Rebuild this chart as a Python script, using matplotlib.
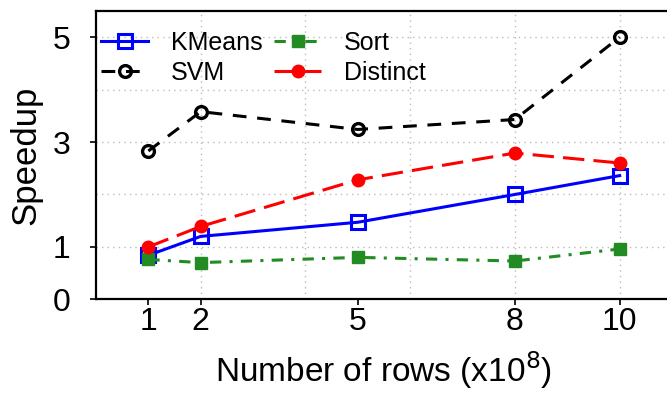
import matplotlib
matplotlib.use("Agg")
import matplotlib.pyplot as plt
from matplotlib.ticker import FixedLocator

plt.rcParams['font.family'] = ['Liberation Sans', 'DejaVu Sans']

# data
rows = [1, 2, 5, 8, 10]   # x 10^8
kmeans = [0.84, 1.20, 1.47, 2.00, 2.36]
svm = [2.83, 3.58, 3.24, 3.43, 5.00]
sort_ = [0.76, 0.70, 0.80, 0.73, 0.96]
distinct = [1.00, 1.39, 2.28, 2.79, 2.60]

xticks = [1, 2, 5, 8, 10]
yticks = [0, 1, 3, 5]
xgrid = [2, 4, 6, 8, 10]
ygrid = [1, 2, 3, 4, 5]

fig = plt.figure(figsize=(6.67, 3.97), dpi=100)
ax = fig.add_axes([96 / 667, (397 - 299.3) / 397, 576 / 667, 288.3 / 397])

ax.plot(rows, kmeans, color="#0000ff", lw=2.2, marker="s", ms=10,
        mfc="none", mec="#0000ff", mew=2.2, label="KMeans")
ax.plot(rows, svm, color="black", lw=2.2, dashes=(4.5, 3.5), marker="o", ms=8.5,
        mfc="none", mec="black", mew=2.4, label="SVM")
ax.plot(rows, sort_, color="#228b22", lw=2.2, dashes=(3.7, 2.7, 1, 2.7), marker="s",
        ms=8, mfc="#228b22", mec="#228b22", label="Sort")
ax.plot(rows, distinct, color="#ff0000", lw=2.2, dashes=(7, 3), marker="o", ms=9,
        mfc="#ff0000", mec="#ff0000", label="Distinct")

ax.set_xlim(0, 11)
ax.set_ylim(0, 5.5)
ax.set_xticks(xticks)
ax.set_yticks(yticks)
# grid lines sit on minor ticks (some coincide with labelled ticks)
ax.xaxis.remove_overlapping_locs = False
ax.yaxis.remove_overlapping_locs = False
ax.xaxis.set_minor_locator(FixedLocator(xgrid))
ax.yaxis.set_minor_locator(FixedLocator(ygrid))
ax.grid(False, which="major")
ax.grid(True, which="minor", linestyle=(0, (1, 3)), color="#bbbbbb", lw=1)
ax.tick_params(which="minor", length=0)
ax.tick_params(which="major", direction="out", length=4.5, width=1.2, labelsize=23)
ax.tick_params(axis="y", pad=14)
ax.tick_params(axis="x", pad=1)
ax.set_axisbelow(True)

for s in ax.spines.values():
    s.set_linewidth(1.6)

ax.set_xlabel("Number of rows (x10$^{8}$)", fontsize=24, labelpad=9)
ax.set_ylabel("Speedup", fontsize=25, labelpad=7)

ax.legend(loc="upper left", bbox_to_anchor=(0.0, 0.948), ncol=2, frameon=False,
          fontsize=18, handlelength=1.9, handletextpad=0.9, columnspacing=0.45,
          labelspacing=0.25, borderaxespad=0, borderpad=0.2)

fig.savefig("out.png", dpi=100)
